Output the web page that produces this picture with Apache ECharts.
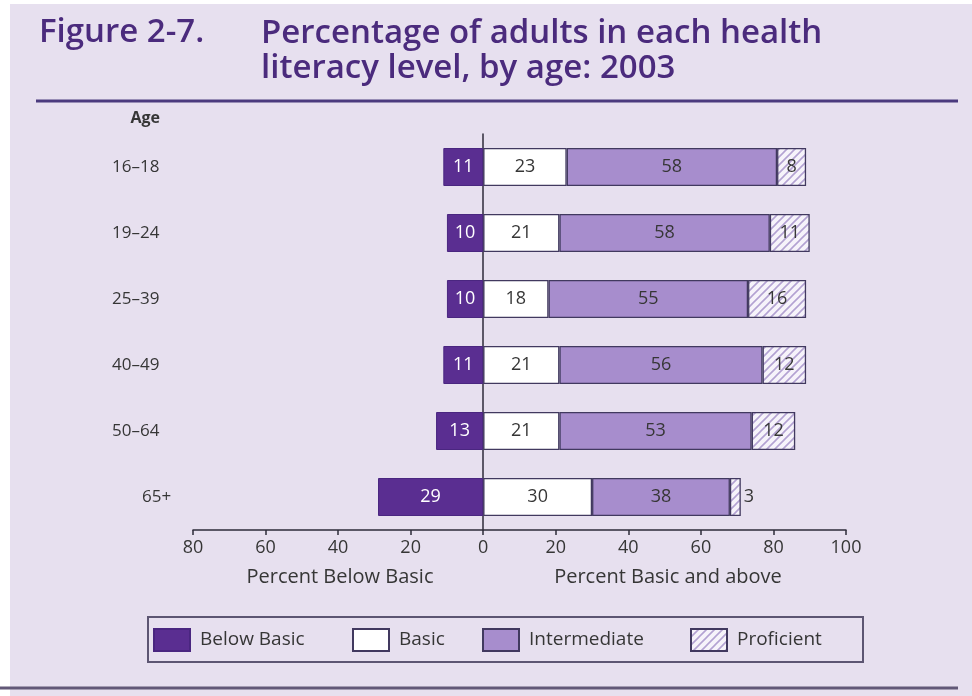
<!DOCTYPE html>
<html>
<head>
<meta charset="utf-8">
<script src="https://cdn.jsdelivr.net/npm/echarts@6/dist/echarts.min.js"></script>
<style>
  html, body { margin: 0; padding: 0; background: #ffffff; }
  #chart { width: 972px; height: 696px; }
</style>
</head>
<body>
<div id="chart"></div>
<script>
// Age groups, top to bottom
const ageGroups = ['16\u201318', '19\u201324', '25\u201339', '40\u201349', '50\u201364', '65+'];
// Percent of adults at each health literacy level
const belowBasic = [11, 10, 10, 11, 13, 29];
const basic = [23, 21, 18, 21, 21, 30];
const intermediate = [58, 58, 55, 56, 53, 38];
const proficient = [8, 11, 16, 12, 12, 3];
// Value axis tick labels (left side counts below basic)
const tickValues = [-80, -60, -40, -20, 0, 20, 40, 60, 80, 100];

const FONT = '"Open Sans", "DejaVu Sans", sans-serif';
const TEXT = '#363636';
const OUTLINE = '#41395f';
const AXIS = '#2e2b3a';

// Diagonal hatch used for the Proficient level
function hatchPattern() {
  const c = document.createElement('canvas');
  c.width = 8; c.height = 8;
  const g = c.getContext('2d');
  g.fillStyle = '#f6f3fa';
  g.fillRect(0, 0, 8, 8);
  g.strokeStyle = '#b3a2d2';
  g.lineWidth = 1.6;
  g.beginPath();
  g.moveTo(-2, 10); g.lineTo(10, -2);
  g.moveTo(-6, 6); g.lineTo(6, -6);
  g.moveTo(2, 14); g.lineTo(14, 2);
  g.stroke();
  return { image: c, repeat: 'repeat' };
}

const labelStyle = { fontFamily: FONT, fontSize: 18, color: TEXT };

const chart = echarts.init(document.getElementById('chart'));
chart.setOption({
  animation: false,
  textStyle: { fontFamily: FONT },
  title: [
    { text: 'Figure 2-7.', left: 34, top: 11,
      textStyle: { fontFamily: FONT, fontSize: 33, fontWeight: 600, color: '#4b2b7d' } },
    { text: 'Percentage of adults in each health\nliteracy level, by age: 2003', left: 256, top: 11,
      textStyle: { fontFamily: FONT, fontSize: 33, fontWeight: 600, color: '#4b2b7d', lineHeight: 35 } }
  ],
  graphic: [
    { type: 'rect', z: -100, silent: true, shape: { x: 10, y: 4, width: 962, height: 692 }, style: { fill: '#e7e0ef' } },
    { type: 'line', silent: true, shape: { x1: 36, y1: 101, x2: 958, y2: 101 }, style: { stroke: '#4b3a7e', lineWidth: 3 } },
    { type: 'line', silent: true, shape: { x1: 0, y1: 688, x2: 958, y2: 688 }, style: { stroke: '#625877', lineWidth: 3 } },
    { type: 'rect', silent: true, shape: { x: 148, y: 617, width: 715, height: 45 }, style: { fill: 'none', stroke: '#5d5672', lineWidth: 2 } },
    { type: 'text', silent: true, style: { x: 340, y: 577, text: 'Percent Below Basic', font: '20px ' + FONT, fill: TEXT, textAlign: 'center', textVerticalAlign: 'middle' } },
    { type: 'text', silent: true, style: { x: 668, y: 577, text: 'Percent Basic and above', font: '20px ' + FONT, fill: TEXT, textAlign: 'center', textVerticalAlign: 'middle' } }
  ],
  legend: [
    ['Below Basic', 153], ['Basic', 352], ['Intermediate', 482], ['Proficient', 690]
  ].map(([name, x]) => ({
    data: [name], left: x, top: 628, padding: 0,
    itemWidth: 36, itemHeight: 22, icon: 'rect',
    textStyle: { fontFamily: FONT, fontSize: 19, color: TEXT, padding: [0, 0, 0, 5] }
  })),
  grid: { left: 193, right: 126, top: 134, height: 396 },
  xAxis: {
    type: 'value', min: -80, max: 100, interval: 20,
    axisLine: { show: true, onZero: false, lineStyle: { color: AXIS, width: 1.5 } },
    axisTick: { show: true, length: 5, lineStyle: { color: AXIS, width: 1.5 } },
    splitLine: { show: false },
    axisLabel: {
      margin: 9, fontFamily: FONT, fontSize: 18, color: TEXT,
      customValues: tickValues,
      formatter: v => String(Math.abs(v))
    }
  },
  yAxis: [
    {
      type: 'category', data: ageGroups, inverse: true,
      name: 'Age', nameLocation: 'start', nameGap: 8,
      nameTextStyle: { fontFamily: FONT, fontSize: 16, fontWeight: 'bold', color: TEXT, align: 'right', verticalAlign: 'bottom', padding: [0, 33, 0, 0] },
      axisLine: { show: false, onZero: false }, axisTick: { show: false },
      axisLabel: {
        align: 'left', margin: 81, fontFamily: FONT, fontSize: 17, color: TEXT,
        formatter: v => v === '65+' ? '{s|' + v + '}' : v,
        rich: { s: { fontFamily: FONT, fontSize: 17, color: TEXT, padding: [0, 0, 0, 30] } }
      }
    },
    {
      // zero baseline dividing below-basic from basic and above
      type: 'category', data: ageGroups, inverse: true, position: 'left',
      axisLine: { show: true, onZero: true, lineStyle: { color: AXIS, width: 1.5 } },
      axisTick: { show: false }, axisLabel: { show: false }
    }
  ],
  series: [
    {
      name: 'Below Basic', type: 'bar', stack: 'levels', barWidth: 38,
      data: belowBasic.map(v => -v),
      itemStyle: { color: '#5a2e91', borderColor: '#4a2680', borderWidth: 1 },
      label: { show: true, position: 'inside', ...labelStyle, color: '#ffffff', formatter: p => Math.abs(p.value) }
    },
    {
      name: 'Basic', type: 'bar', stack: 'levels', barWidth: 38, data: basic,
      itemStyle: { color: '#ffffff', borderColor: OUTLINE, borderWidth: 1.3 },
      label: { show: true, position: 'inside', ...labelStyle }
    },
    {
      name: 'Intermediate', type: 'bar', stack: 'levels', barWidth: 38, data: intermediate,
      itemStyle: { color: '#a78dcd', borderColor: OUTLINE, borderWidth: 1.3 },
      label: { show: true, position: 'inside', ...labelStyle }
    },
    {
      name: 'Proficient', type: 'bar', stack: 'levels', barWidth: 38,
      // narrow segments carry their label just outside the bar
      data: proficient.map(v => v < 5 ? { value: v, label: { position: 'right', distance: 3 } } : v),
      itemStyle: { color: hatchPattern(), borderColor: OUTLINE, borderWidth: 1.3 },
      label: { show: true, position: 'inside', ...labelStyle }
    }
  ]
});
</script>
</body>
</html>
